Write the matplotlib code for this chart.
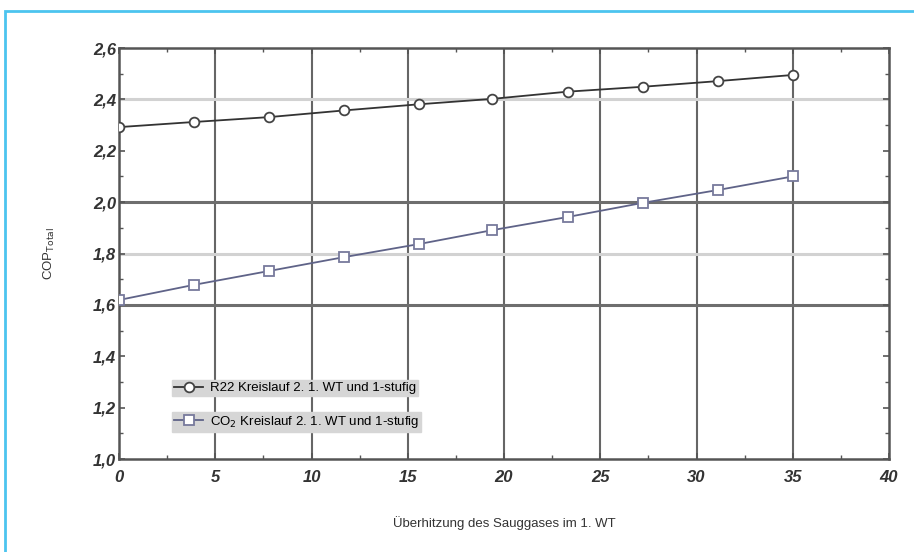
import matplotlib
matplotlib.use("Agg")
import matplotlib.pyplot as plt
import matplotlib.patches as patches
from matplotlib.ticker import MultipleLocator, FuncFormatter

# Daten
ueberhitzung = [0, 3.9, 7.8, 11.7, 15.6, 19.4, 23.3, 27.2, 31.1, 35]
cop_r22 = [2.292, 2.312, 2.331, 2.357, 2.381, 2.402, 2.430, 2.449, 2.471, 2.495]
cop_co2 = [1.619, 1.678, 1.732, 1.786, 1.837, 1.891, 1.942, 1.997, 2.047, 2.100]

label_r22 = "R22 Kreislauf 2. 1. WT und 1-stufig"
label_co2 = "CO$_2$ Kreislauf 2. 1. WT und 1-stufig"

# Gitterlinien wie im Original (dunkel / hell)
x_gitter = [5, 10, 15, 20, 25, 30, 35]
y_gitter_dunkel = [2.0, 1.6]
y_gitter_hell = [2.4, 1.8]

plt.rcParams['font.family'] = ['Liberation Sans', 'DejaVu Sans']

fig = plt.figure(figsize=(9.14, 5.52), dpi=100)
ax = fig.add_axes([119/914, 1 - 459/552, (889-119)/914, (459-48)/552])

# blauer Rahmen um die Grafik
rahmen = patches.Rectangle((5/914, -0.05), 1.0, 1 - 11/552 + 0.05,
                           transform=fig.transFigure, fill=False,
                           edgecolor='#4cc4ef', linewidth=2, clip_on=False)
fig.patches.append(rahmen)

for xg in x_gitter:
    ax.axvline(xg, color='#666666', linewidth=1.5, zorder=1)
for yg in y_gitter_dunkel:
    ax.axhline(yg, color='#6e6e6e', linewidth=2.2, zorder=1)
for yg in y_gitter_hell:
    ax.axhline(yg, color='#d2d2d2', linewidth=2.2, zorder=1)

l1, = ax.plot(ueberhitzung, cop_r22, color='#333333', linewidth=1.3,
              marker='o', markersize=7, markerfacecolor='white',
              markeredgecolor='#444444', markeredgewidth=1.3, zorder=3)
l2, = ax.plot(ueberhitzung, cop_co2, color='#5f6388', linewidth=1.3,
              marker='s', markersize=7, markerfacecolor='white',
              markeredgecolor='#777a9c', markeredgewidth=1.3, zorder=3)

ax.set_xlim(0, 40)
ax.set_ylim(1.0, 2.6)
ax.xaxis.set_major_locator(MultipleLocator(5))
ax.xaxis.set_minor_locator(MultipleLocator(2.5))
ax.yaxis.set_major_locator(MultipleLocator(0.2))
ax.yaxis.set_minor_locator(MultipleLocator(0.1))
ax.yaxis.set_major_formatter(FuncFormatter(lambda v, p: f"{v:.1f}".replace('.', ',')))
ax.xaxis.set_major_formatter(FuncFormatter(lambda v, p: f"{v:.0f}"))
ax.tick_params(which='both', direction='in', top=True, right=True,
               color='#555555', labelcolor='#333333')
ax.tick_params(which='major', length=4, width=1.2)
ax.tick_params(which='minor', length=3, width=1)
ax.tick_params(axis='x', pad=8)
ax.tick_params(axis='y', pad=2)
for lbl in ax.get_xticklabels() + ax.get_yticklabels():
    lbl.set_fontsize(12)
    lbl.set_fontweight('bold')
    lbl.set_fontstyle('italic')
for sp in ax.spines.values():
    sp.set_color('#555555')
    sp.set_linewidth(1.8)

ax.set_ylabel("COP$_{\\mathrm{Total}}$", fontsize=9.5, color='#333333', labelpad=26)
ax.set_xlabel("Überhitzung des Sauggases im 1. WT", fontsize=9.5, color='#333333', labelpad=22)

# zwei getrennte graue Legendenbalken
leg1 = ax.legend([l1], [label_r22], loc='lower left', bbox_to_anchor=(0.069, 0.153),
                 fontsize=9.5, facecolor='#d6d6d6', edgecolor='#d6d6d6', framealpha=1,
                 fancybox=False, handlelength=2.2, handletextpad=0.5,
                 borderpad=0.15, borderaxespad=0)
ax.add_artist(leg1)
ax.legend([l2], [label_co2], loc='lower left', bbox_to_anchor=(0.069, 0.066),
          fontsize=9.5, facecolor='#d6d6d6', edgecolor='#d6d6d6', framealpha=1,
          fancybox=False, handlelength=2.2, handletextpad=0.5,
          borderpad=0.15, borderaxespad=0)

fig.savefig("out.png", dpi=100)
